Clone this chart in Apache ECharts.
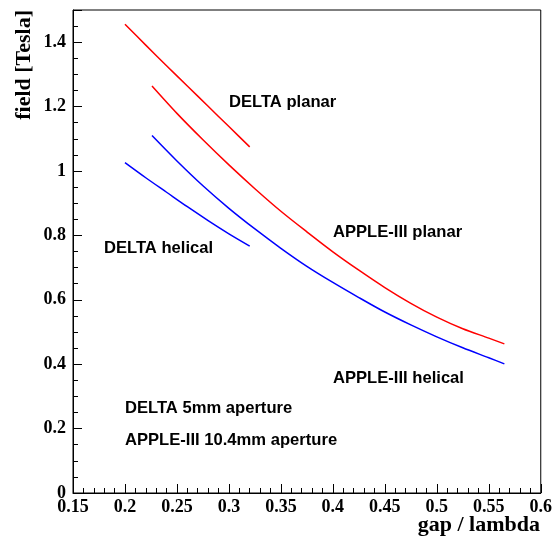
<!DOCTYPE html>
<html>
<head>
<meta charset="utf-8">
<title>Undulator peak field vs gap/lambda</title>
<script src="https://cdn.jsdelivr.net/npm/echarts@6/dist/echarts.min.js"></script>
<style>
  html, body { margin: 0; padding: 0; background: #fff; }
  #chart { width: 555px; height: 547px; }
</style>
</head>
<body>
<div id="chart"></div>
<script>
// gap / lambda sample points and peak field (Tesla) for each device
const deltaGap     = [0.20, 0.22, 0.24, 0.26, 0.28, 0.30, 0.32];
const deltaPlanar  = [1.456, 1.391, 1.327, 1.264, 1.201, 1.138, 1.075];
const deltaHelical = [1.026, 0.979, 0.934, 0.889, 0.846, 0.805, 0.767];

const appleGap     = [0.226, 0.25, 0.275, 0.30, 0.325, 0.35, 0.375, 0.40,
                      0.425, 0.45, 0.475, 0.50, 0.525, 0.55, 0.565];
const applePlanar  = [1.264, 1.179, 1.097, 1.019, 0.945, 0.875, 0.811, 0.749,
                      0.692, 0.638, 0.589, 0.546, 0.510, 0.481, 0.463];
const appleHelical = [1.110, 1.031, 0.954, 0.884, 0.820, 0.760, 0.704, 0.654,
                      0.607, 0.562, 0.522, 0.485, 0.451, 0.420, 0.401];

// axis ranges and tick steps
const xRange = [0.15, 0.6];
const xMajorStep = 0.05;
const yRange = [0, 1.5];
const yMajorStep = 0.2;
const yMinorStep = 0.05;

// text annotations placed on the plot
const notes = [
  { text: 'DELTA planar',              left: 229, top: 102.5 },
  { text: 'APPLE-III planar',          left: 333, top: 232 },
  { text: 'DELTA helical',             left: 104, top: 248 },
  { text: 'APPLE-III helical',         left: 333, top: 378 },
  { text: 'DELTA 5mm aperture',        left: 125, top: 408.5 },
  { text: 'APPLE-III 10.4mm aperture', left: 125, top: 440 }
];

const pairs = (xs, ys) => xs.map((x, i) => [x, ys[i]]);

const serifBold = { fontFamily: 'Liberation Serif', fontWeight: 'bold', color: '#000' };

const chart = echarts.init(document.getElementById('chart'), null, { renderer: 'canvas' });

const curve = (name, xs, ys, color) => ({
  name, type: 'line', xAxisIndex: 0, yAxisIndex: 0,
  data: pairs(xs, ys), symbol: 'none', smooth: 0.3,
  lineStyle: { color, width: 1.5 }, animation: false, z: 5
});

chart.setOption({
  animation: false,
  backgroundColor: '#fff',
  grid: {
    left: 73, right: 14, top: 10, bottom: 54,
    show: true, borderColor: '#000', borderWidth: 1, backgroundColor: 'transparent'
  },
  xAxis: [{
    type: 'value', min: xRange[0], max: xRange[1], interval: xMajorStep,
    position: 'bottom',
    axisLine: { show: true, lineStyle: { color: '#000', width: 1 } },
    axisTick: { show: true, inside: true, length: 9, lineStyle: { color: '#000', width: 1 } },
    minorTick: { show: true, splitNumber: 5, length: 5, lineStyle: { color: '#000', width: 1 } },
    splitLine: { show: false },
    axisLabel: Object.assign({ fontSize: 18, margin: 5, interval: 0 }, serifBold)
  }],
  yAxis: [{
    type: 'value', min: yRange[0], max: yRange[1], interval: yMajorStep,
    position: 'left',
    axisLine: { show: true, lineStyle: { color: '#000', width: 1 } },
    axisTick: { show: true, inside: true, length: 9, lineStyle: { color: '#000', width: 1 } },
    splitLine: { show: false },
    axisLabel: Object.assign({
      fontSize: 18, margin: 7, interval: 0,
      formatter: v => (v > yRange[1] - yMinorStep ? '' : String(+v.toFixed(2)))
    }, serifBold)
  }, {
    type: 'value', min: yRange[0], max: yRange[1], interval: yMinorStep,
    position: 'left', offset: 0,
    axisLine: { show: false },
    axisTick: { show: true, inside: true, length: 5, lineStyle: { color: '#000', width: 1 } },
    splitLine: { show: false },
    axisLabel: { show: false }
  }],
  series: [
    curve('DELTA planar', deltaGap, deltaPlanar, '#ff0000'),
    curve('APPLE-III planar', appleGap, applePlanar, '#ff0000'),
    curve('DELTA helical', deltaGap, deltaHelical, '#0000ff'),
    curve('APPLE-III helical', appleGap, appleHelical, '#0000ff')
  ],
  graphic: [
    {
      type: 'text', x: 24, y: 10, rotation: Math.PI / 2,
      style: { text: 'field [Tesla]', fontFamily: 'Liberation Serif', fontWeight: 'bold',
               fontSize: 22, fill: '#000', align: 'right', verticalAlign: 'middle' }
    },
    {
      type: 'text', x: 540, y: 525,
      style: { text: 'gap / lambda', fontFamily: 'Liberation Serif', fontWeight: 'bold',
               fontSize: 22, fill: '#000', align: 'right', verticalAlign: 'middle' }
    }
  ].concat(notes.map(n => ({
    type: 'text', x: n.left, y: n.top,
    style: { text: n.text, fontFamily: 'Liberation Sans', fontWeight: 'bold',
             fontSize: 16.6, fill: '#000', align: 'left', verticalAlign: 'middle' }
  })))
});
</script>
</body>
</html>
